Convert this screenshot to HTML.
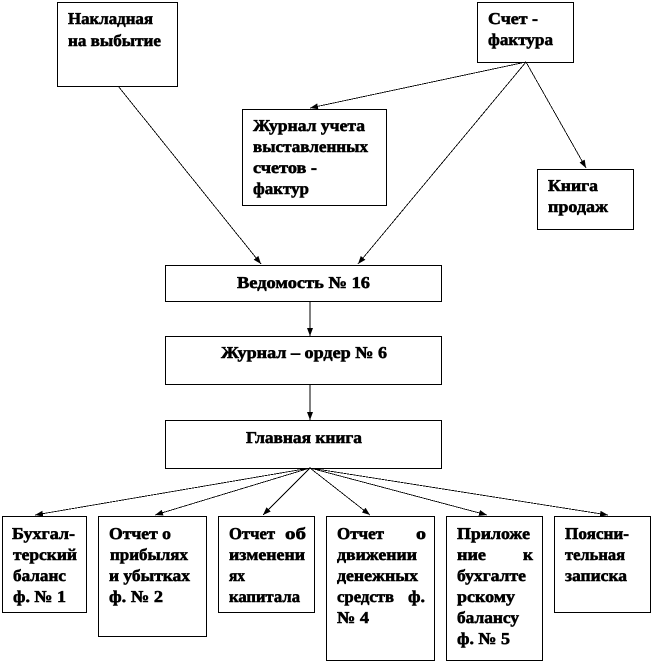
<!DOCTYPE html>
<html lang="ru">
<head>
<meta charset="utf-8">
<title>Схема</title>
<style>
html,body{margin:0;padding:0;background:#fff;width:654px;height:663px;overflow:hidden}
svg{display:block}
rect{fill:#fff;stroke:#000;stroke-width:1}
line{stroke:#000;stroke-width:.85;shape-rendering:crispEdges;marker-end:url(#a)}
text{font-family:"Liberation Serif","Times New Roman",serif;font-weight:bold;font-size:16.5px;fill:#000;stroke:#000;stroke-width:.55;text-rendering:geometricPrecision}
</style>
</head>
<body>
<svg width="654" height="663" viewBox="0 0 654 663" xmlns="http://www.w3.org/2000/svg">
<defs>
<marker id="a" markerUnits="userSpaceOnUse" markerWidth="8" markerHeight="6" refX="8" refY="3" orient="auto">
<path d="M0,0 L8,3 L0,6 z" fill="#000"/>
</marker>
</defs>
<g shape-rendering="crispEdges">
<rect x="57.5" y="2.5" width="120" height="84"/>
<rect x="477.5" y="2.5" width="96" height="60"/>
<rect x="242.5" y="109.5" width="144" height="96"/>
<rect x="537.5" y="169.5" width="96" height="60"/>
<rect x="165.5" y="265.5" width="276" height="36"/>
<rect x="165.5" y="336.5" width="276" height="48"/>
<rect x="165.5" y="420.5" width="276" height="48"/>
<rect x="2.5" y="516.5" width="84" height="96"/>
<rect x="98.5" y="516.5" width="108" height="120"/>
<rect x="218.5" y="516.5" width="96" height="96"/>
<rect x="326.5" y="516.5" width="108" height="144"/>
<rect x="446.5" y="516.5" width="96" height="144"/>
<rect x="554.5" y="516.5" width="96" height="96"/>
</g>
<line x1="118" y1="86" x2="261" y2="264"/>
<line x1="526" y1="62" x2="310" y2="108"/>
<line x1="526" y1="62" x2="358" y2="264"/>
<line x1="526" y1="62" x2="586" y2="168"/>
<line x1="310" y1="301" x2="310" y2="336"/>
<line x1="310" y1="384" x2="310" y2="420"/>
<line x1="310" y1="468" x2="35" y2="515"/>
<line x1="310" y1="468" x2="155" y2="515"/>
<line x1="310" y1="468" x2="263" y2="515"/>
<line x1="310" y1="468" x2="370" y2="515"/>
<line x1="310" y1="468" x2="487" y2="515"/>
<line x1="310" y1="468" x2="608" y2="515"/>

<text x="68" y="24" textLength="85" lengthAdjust="spacingAndGlyphs">Накладная</text>
<text x="68" y="46" textLength="93" lengthAdjust="spacingAndGlyphs">на выбытие</text>
<text x="488" y="24" textLength="50" lengthAdjust="spacingAndGlyphs">Счет -</text>
<text x="488" y="45" textLength="65" lengthAdjust="spacingAndGlyphs">фактура</text>
<text x="253" y="131" textLength="112" lengthAdjust="spacingAndGlyphs">Журнал учета</text>
<text x="253" y="152" textLength="115" lengthAdjust="spacingAndGlyphs">выставленных</text>
<text x="253" y="173" textLength="64" lengthAdjust="spacingAndGlyphs">счетов -</text>
<text x="253" y="194" textLength="56" lengthAdjust="spacingAndGlyphs">фактур</text>
<text x="548" y="191" textLength="50" lengthAdjust="spacingAndGlyphs">Книга</text>
<text x="548" y="212" textLength="60" lengthAdjust="spacingAndGlyphs">продаж</text>
<text x="237" y="288" textLength="133" lengthAdjust="spacingAndGlyphs">Ведомость № 16</text>
<text x="221" y="358" textLength="166" lengthAdjust="spacingAndGlyphs">Журнал – ордер № 6</text>
<text x="246" y="443" textLength="116" lengthAdjust="spacingAndGlyphs">Главная книга</text>

<text x="12" y="539" textLength="63" lengthAdjust="spacingAndGlyphs">Бухгал-</text>
<text x="13" y="560" textLength="64" lengthAdjust="spacingAndGlyphs">терский</text>
<text x="13" y="581" textLength="53" lengthAdjust="spacingAndGlyphs">баланс</text>
<text x="13" y="602" textLength="53" lengthAdjust="spacingAndGlyphs">ф. № 1</text>

<text x="109" y="539" textLength="62" lengthAdjust="spacingAndGlyphs">Отчет о</text>
<text x="110" y="560" textLength="78" lengthAdjust="spacingAndGlyphs">прибылях</text>
<text x="109" y="581" textLength="81" lengthAdjust="spacingAndGlyphs">и убытках</text>
<text x="109" y="602" textLength="54" lengthAdjust="spacingAndGlyphs">ф. № 2</text>

<text x="229" y="539" textLength="46" lengthAdjust="spacingAndGlyphs">Отчет</text>
<text x="285" y="539" textLength="21" lengthAdjust="spacingAndGlyphs">об</text>
<text x="229" y="560" textLength="76" lengthAdjust="spacingAndGlyphs">изменени</text>
<text x="229" y="581" textLength="16" lengthAdjust="spacingAndGlyphs">ях</text>
<text x="229" y="602" textLength="71" lengthAdjust="spacingAndGlyphs">капитала</text>

<text x="337" y="539" textLength="47" lengthAdjust="spacingAndGlyphs">Отчет</text>
<text x="416" y="539" textLength="10" lengthAdjust="spacingAndGlyphs">о</text>
<text x="337" y="560" textLength="80" lengthAdjust="spacingAndGlyphs">движении</text>
<text x="337" y="581" textLength="81" lengthAdjust="spacingAndGlyphs">денежных</text>
<text x="337" y="602" textLength="57" lengthAdjust="spacingAndGlyphs">средств</text>
<text x="408" y="602" textLength="17" lengthAdjust="spacingAndGlyphs">ф.</text>
<text x="337" y="623" textLength="32" lengthAdjust="spacingAndGlyphs">№ 4</text>

<text x="457" y="539" textLength="73" lengthAdjust="spacingAndGlyphs">Приложе</text>
<text x="457" y="560" textLength="29" lengthAdjust="spacingAndGlyphs">ние</text>
<text x="523" y="560" textLength="10" lengthAdjust="spacingAndGlyphs">к</text>
<text x="457" y="581" textLength="69" lengthAdjust="spacingAndGlyphs">бухгалте</text>
<text x="457" y="602" textLength="58" lengthAdjust="spacingAndGlyphs">рскому</text>
<text x="457" y="623" textLength="62" lengthAdjust="spacingAndGlyphs">балансу</text>
<text x="457" y="644" textLength="53" lengthAdjust="spacingAndGlyphs">ф. № 5</text>

<text x="565" y="539" textLength="64" lengthAdjust="spacingAndGlyphs">Поясни-</text>
<text x="565" y="560" textLength="60" lengthAdjust="spacingAndGlyphs">тельная</text>
<text x="565" y="581" textLength="62" lengthAdjust="spacingAndGlyphs">записка</text>
</svg>
</body>
</html>
